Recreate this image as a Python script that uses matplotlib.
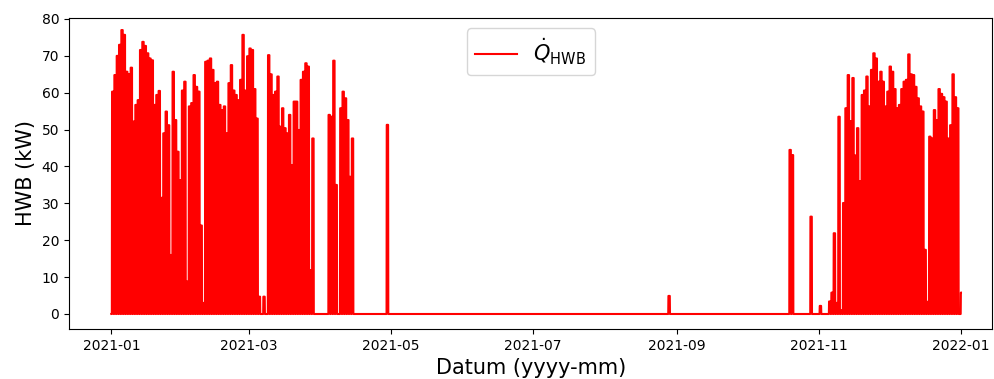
import numpy as np
import pandas as pd
import matplotlib
matplotlib.use("Agg")
import matplotlib.pyplot as plt
import matplotlib.dates as mdates

# daily peak load (kW), winter block 1: 2021-01-01 ..
peaks_jan_mar = [
    60.3, 64.8, 70.0, 73.0, 77.0, 75.7, 65.7, 65.0, 66.8, 52.2,
    56.7, 58.0, 71.6, 73.8, 72.7, 70.7, 69.3, 68.8, 56.7, 59.4,
    60.5, 31.5, 49.0, 54.9, 51.2, 16.0, 65.7, 52.6, 44.0, 36.3,
    60.6, 63.0, 8.8, 56.3, 57.2, 64.8, 61.6, 60.3, 24.0, 3.0,
    68.4, 68.7, 69.3, 66.2, 62.6, 63.0, 56.7, 55.3, 56.3, 49.0,
    62.6, 67.5, 60.6, 59.4, 58.0, 63.5, 75.7, 60.6, 69.9, 72.0,
    71.6, 61.0, 53.0,
]
# block 2: 2021-03-09 ..
peaks_mar = [
    70.2, 65.0, 59.4, 60.3, 64.4, 50.8, 55.8, 50.4, 49.0, 54.0,
    40.4, 57.6, 57.6, 49.9, 63.5, 65.7, 68.0, 67.1, 11.9, 47.6,
]
# block 3: 2021-04-04 ..
peaks_apr = [54.0, 53.5, 68.7, 35.0, 0.0, 55.8, 60.3, 58.5, 52.6, 37.2, 47.6]
# block 4: 2021-11-05 ..
peaks_nov_dec = [
    3.4, 5.8, 21.9, 3.0, 53.5, 1.0, 30.1, 55.8, 64.8, 52.3,
    64.0, 43.0, 50.4, 36.0, 59.4, 60.6, 64.4, 56.3, 66.2, 70.7,
    69.3, 63.0, 65.7, 63.0, 56.3, 60.3, 67.1, 65.7, 61.0, 55.8,
    56.7, 61.0, 63.0, 63.5, 70.4, 65.0, 64.8, 61.6, 58.5, 56.3,
    54.9, 17.4, 3.3, 48.1, 47.6, 55.3, 52.6, 61.0, 59.7, 58.8,
    57.6, 47.6, 51.2, 65.0, 58.8, 55.8,
]
# single days outside the heating blocks
spike_dates = ["2021-03-05", "2021-03-07", "2021-04-29", "2021-08-28",
               "2021-10-19", "2021-10-20", "2021-10-28", "2021-11-01"]
spike_values = [4.7, 4.7, 51.3, 4.9, 44.5, 43.1, 26.4, 2.2]
last_hours_value = 5.8

days = pd.date_range("2021-01-01", "2021-12-31", freq="D")
daily = pd.Series(0.0, index=days)
for start, vals in [("2021-01-01", peaks_jan_mar), ("2021-03-09", peaks_mar),
                    ("2021-04-04", peaks_apr), ("2021-11-05", peaks_nov_dec)]:
    idx = pd.date_range(start, periods=len(vals), freq="D")
    daily.loc[idx] = vals
for d, v in zip(spike_dates, spike_values):
    daily.loc[pd.Timestamp(d)] = v

# hourly series: plant runs 06-21 h at the daily peak, off at night
hours = pd.date_range("2021-01-01 00:00", "2021-12-31 23:00", freq="h")
hourly = pd.Series(0.0, index=hours)
on = (hours.hour >= 6) & (hours.hour <= 21)
hourly[on] = daily.reindex(hours.normalize()).values[on]
hourly.iloc[-3:] = last_hours_value

fig = plt.figure(figsize=(9.94, 3.79), dpi=100)
ax = fig.add_axes([69 / 994, 50 / 379, 923.5 / 994, 311 / 379])

ax.plot(hourly.index, hourly.values, color="red", linewidth=1.5,
        label=r"$\dot{Q}_{\mathrm{HWB}}$")

ax.set_xlim(pd.Timestamp("2021-01-01") - pd.Timedelta(days=18.2),
            pd.Timestamp("2021-01-01") + pd.Timedelta(days=378.5))
ax.set_ylim(-4.07, 80.27)
ax.set_yticks(range(0, 81, 10))
ax.xaxis.set_major_locator(mdates.MonthLocator(bymonth=[1, 3, 5, 7, 9, 11]))
ax.xaxis.set_major_formatter(mdates.DateFormatter("%Y-%m"))

ax.set_xlabel("Datum (yyyy-mm)", fontsize=15)
ax.set_ylabel("HWB (kW)", fontsize=15)
ax.legend(loc="upper center", fontsize=15)

fig.savefig("out.png", dpi=100, facecolor="white")
